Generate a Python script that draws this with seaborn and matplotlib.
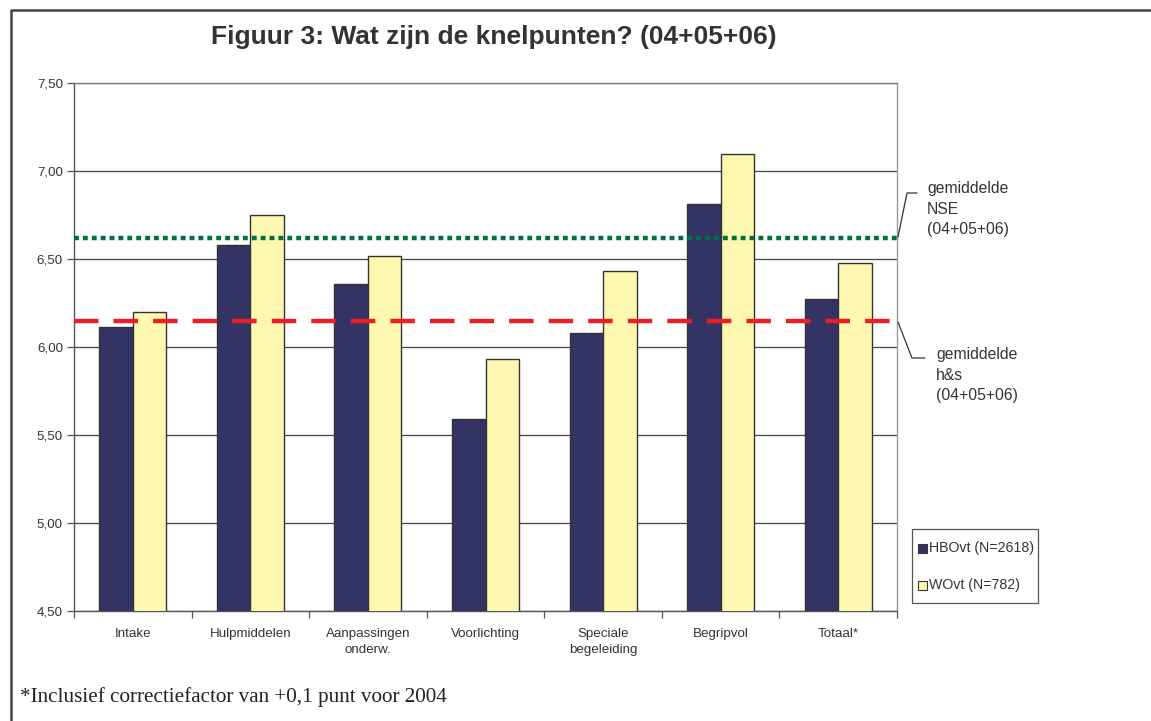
import matplotlib
matplotlib.use("Agg")
import matplotlib.pyplot as plt
import seaborn as sns
import pandas as pd
from matplotlib.lines import Line2D
from matplotlib.patches import Rectangle
from matplotlib.ticker import FuncFormatter, MultipleLocator

categories = ["Intake", "Hulpmiddelen", "Aanpassingen\nonderw.", "Voorlichting",
              "Speciale\nbegeleiding", "Begripvol", "Totaal*"]
hbo_values = [6.115, 6.58, 6.36, 5.59, 6.08, 6.81, 6.27]
wo_values = [6.20, 6.75, 6.515, 5.93, 6.43, 7.095, 6.48]
series_names = ["HBOvt (N=2618)", "WOvt (N=782)"]
nse_mean = 6.62
hs_mean = 6.145
title = "Figuur 3: Wat zijn de knelpunten? (04+05+06)"
footnote = "*Inclusief correctiefactor van +0,1 punt voor 2004"

df = pd.DataFrame({
    "cat": categories * 2,
    "val": hbo_values + wo_values,
    "serie": [series_names[0]] * len(categories) + [series_names[1]] * len(categories),
})

W, H = 1151, 721
sns.set_theme(style="white")
plt.rcParams["font.family"] = ["Liberation Sans", "DejaVu Sans"]

fig = plt.figure(figsize=(W / 100, H / 100), dpi=100)

def fx(x):
    return x / W

def fy(y):
    return 1 - y / H

ax = fig.add_axes([fx(74), fy(611), fx(897) - fx(74), fy(83) - fy(611)])

palette = {series_names[0]: "#333366", series_names[1]: "#FFF8B0"}
sns.barplot(data=df, x="cat", y="val", hue="serie", palette=palette, ax=ax,
            width=0.57, edgecolor="#333333", linewidth=1.0, saturation=1,
            legend=False, zorder=3)

ax.set_ylim(4.5, 7.5)
ax.set_xlim(-0.5, len(categories) - 0.5)
ax.yaxis.set_major_locator(MultipleLocator(0.5))
ax.yaxis.set_major_formatter(FuncFormatter(lambda v, p: f"{v:.2f}".replace(".", ",")))
ax.grid(axis="y", color="#444444", linewidth=0.9, zorder=0)
ax.set_axisbelow(True)
ax.set_xlabel("")
ax.set_ylabel("")

for s in ["left", "bottom"]:
    ax.spines[s].set_color("#555555")
    ax.spines[s].set_linewidth(1.0)
ax.spines["right"].set_color("#999999")
ax.spines["right"].set_linewidth(1.0)
ax.spines["top"].set_color("#8a7f7f")
ax.spines["top"].set_linewidth(1.0)

ax.tick_params(axis="y", length=5, width=0.9, color="#555555", labelsize=9.6,
               labelcolor="#333333", left=True, direction="out", pad=3)
ax.set_xticks(range(len(categories)))
ax.set_xticklabels(categories, fontsize=9.6, color="#333333", linespacing=1.45)
ax.tick_params(axis="x", length=0, pad=12)
ax.set_xticks([i + 0.5 for i in range(-1, len(categories))], minor=True)
ax.tick_params(axis="x", which="minor", length=5, width=0.9, color="#555555",
               bottom=True, direction="out")

ax.axhline(nse_mean, color="#00703C", linewidth=3.2, linestyle=(0, (1.1, 0.9)),
           zorder=4)
ax.axhline(hs_mean, color="#EE1C25", linewidth=3.2, linestyle=(0, (5.5, 3.4)),
           zorder=4)

# legend (drawn as a boxed key)
fig.add_artist(Rectangle((fx(912), fy(603)), fx(1038) - fx(912), fy(529) - fy(603),
                         facecolor="white", edgecolor="#555555", linewidth=0.9))
for name, yc in zip(series_names, [548, 585]):
    fig.add_artist(Rectangle((fx(918), fy(yc + 4.5)), fx(9), 9 / H,
                             facecolor=palette[name], edgecolor="#333333", linewidth=0.8))
    fig.text(fx(929), fy(yc), name, fontsize=10.2, color="#333333",
             ha="left", va="center")

# annotations
fig.text(fx(927), fy(209), "gemiddelde\nNSE\n(04+05+06)", fontsize=11.3, color="#333333",
         va="center", ha="left", linespacing=1.42)
fig.text(fx(936), fy(375), "gemiddelde\nh&s\n(04+05+06)", fontsize=11.3, color="#333333",
         va="center", ha="left", linespacing=1.42)
fig.add_artist(Line2D([fx(898), fx(907), fx(917)], [fy(237), fy(193), fy(193)],
                      color="#333333", linewidth=0.9))
fig.add_artist(Line2D([fx(898), fx(912), fx(925)], [fy(322), fy(358), fy(358)],
                      color="#333333", linewidth=0.9))

fig.text(fx(494), fy(37), title, fontsize=19, fontweight="bold", color="#333333",
         ha="center", va="center")
fig.text(fx(20), fy(697), footnote, fontsize=15.2, color="#222222",
         family=["Liberation Serif", "DejaVu Serif"], ha="left", va="center")

# outer border
fig.add_artist(Line2D([fx(11), fx(11), fx(1151)], [0, fy(10), fy(10)],
                      color="#444444", linewidth=1.8))

fig.savefig("out.png", dpi=100)
